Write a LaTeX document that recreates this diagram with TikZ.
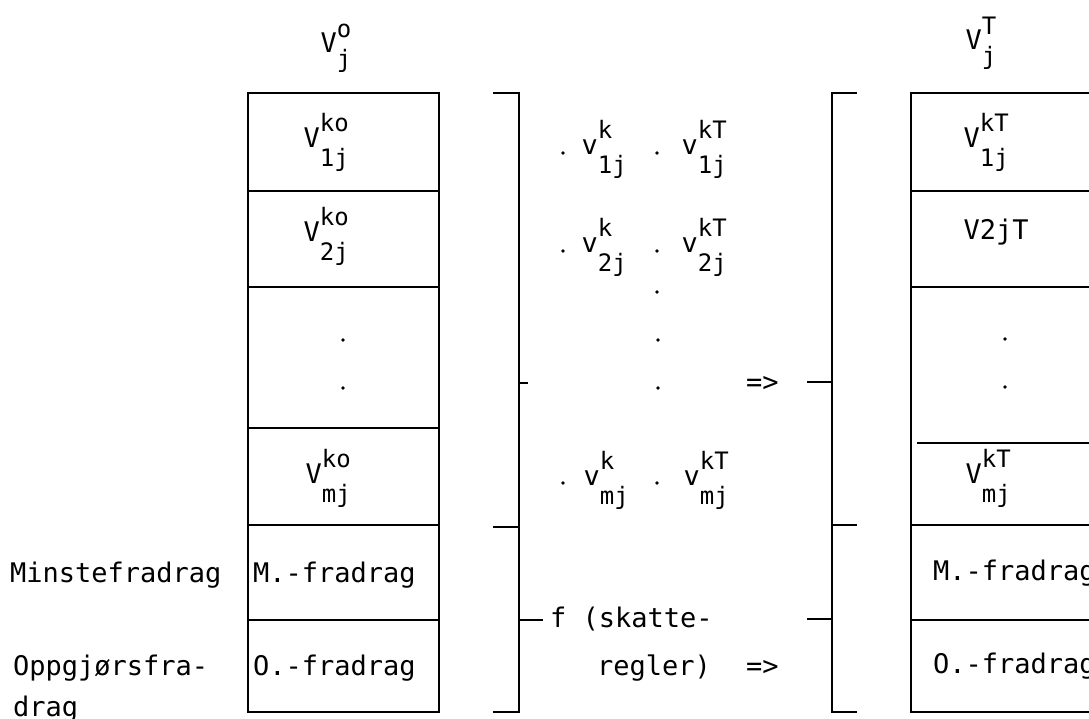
\documentclass[tikz,border=0pt]{standalone}
\usepackage{fontspec}
\newfontfamily\mono{DejaVu Sans Mono}
\newcommand\scr{\fontsize{24}{24}\selectfont}
\newcommand\Vss[3]{#1\rlap{\raisebox{16pt}{\scr #2}}\raisebox{-19pt}{\scr #3}}
\newcommand\Vt[3]{#1\rlap{\raisebox{15pt}{\scr #2}}\raisebox{-15pt}{\scr #3}}
\begin{document}
\begin{tikzpicture}[x=1pt,y=-1pt,line width=2.2pt,
  txt/.style={font={\mono\fontsize{27}{27}\selectfont},inner sep=0pt,anchor=base west},
  dotm/.style={circle,fill=black,draw=none,inner sep=0pt,minimum size=3.8pt}]
\useasboundingbox (0,0) rectangle (1089,719);
\clip (0,0) rectangle (1089,719);
% left box
\draw (248,93) rectangle (439,712);
\foreach \y in {191,287,428,525,620} \draw (248,\y) -- (439,\y);
% right box
\draw (1100,93) -- (911,93) -- (911,712) -- (1100,712);
\foreach \y in {191,287,525,620} \draw (911,\y) -- (1100,\y);
\draw (917,443) -- (1100,443);
% middle bracket
\draw (493,93) -- (519,93) -- (519,712) -- (493,712);
\draw (519,383) -- (528,383);
\draw (493,527) -- (519,527);
\draw (519,620) -- (543,620);
% right bracket
\draw (857,93) -- (832,93) -- (832,712) -- (857,712);
\draw (807,382) -- (832,382);
\draw (832,525) -- (857,525);
\draw (807,619) -- (832,619);
% top labels
\node[txt] (topL) at (319.5,53) {\Vt{V}{o}{j}};
\node[txt] (topR) at (964.5,50) {\Vt{V}{T}{j}};
% left box texts
\node[txt] (L1) at (302.5,148) {\Vss{V}{ko}{1j}};
\node[txt] (L2) at (302.5,242) {\Vss{V}{ko}{2j}};
\node[txt] (Lm) at (304.5,483) {\Vss{V}{ko}{mj}};
\node[dotm] (Ld1) at (343,340) {};
\node[dotm] (Ld2) at (343,388) {};
\node[txt] (LM) at (252,582) {M.-fradrag};
\node[txt] (LO) at (252,675) {O.-fradrag};
% right box texts
\node[txt] (R1) at (962.5,148) {\Vss{V}{kT}{1j}};
\node[txt] (R2) at (962.5,240) {V2jT};
\node[txt] (Rm) at (964.5,483) {\Vss{V}{kT}{mj}};
\node[dotm] (Rd1) at (1005,339) {};
\node[dotm] (Rd2) at (1005,387) {};
\node[txt] (RM) at (932,580) {M.-fradrag};
\node[txt] (RO) at (932,673) {O.-fradrag};
% left labels
\node[txt] (minste) at (9,582) {Minstefradrag};
\node[txt] (oppg) at (12,675) {Oppgjørsfra-};
\node[txt] (drag) at (12,716) {drag};
% middle column
\node[dotm] (a1) at (563,153) {};
\node[txt] (va1) at (580.5,155) {\Vss{v}{k}{1j}};
\node[dotm] (b1) at (657,153) {};
\node[txt] (vb1) at (680.5,155) {\Vss{v}{kT}{1j}};
\node[dotm] (a2) at (563,251) {};
\node[txt] (va2) at (580.5,253) {\Vss{v}{k}{2j}};
\node[dotm] (b2) at (657,251) {};
\node[txt] (vb2) at (680.5,253) {\Vss{v}{kT}{2j}};
\node[dotm] (c1) at (657,292) {};
\node[dotm] (c2) at (658,340) {};
\node[dotm] (c3) at (658,388) {};
\node[dotm] (am) at (563,483) {};
\node[txt] (vam) at (582.5,485) {\Vss{v}{k}{mj}};
\node[dotm] (bm) at (657,483) {};
\node[txt] (vbm) at (682.5,485) {\Vss{v}{kT}{mj}};
\node[txt] (arr1) at (745,391) {=>};
\node[txt] (f) at (549,627) {f (skatte-};
\node[txt] (regler) at (596,675) {regler)};
\node[txt] (arr2) at (745,675) {=>};
\end{tikzpicture}
\end{document}
